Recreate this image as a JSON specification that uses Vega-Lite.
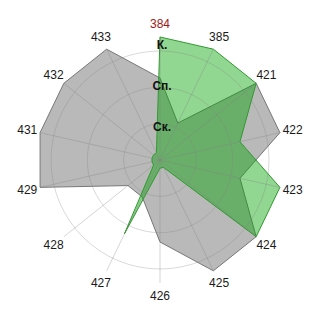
{
  "$schema": "https://vega.github.io/schema/vega-lite/v6.json",
  "width": 320,
  "height": 320,
  "padding": 0,
  "autosize": {"type": "none"},
  "background": "white",
  "config": {"view": {"stroke": null}},
  "datasets": {
    "series": [
      {"cat": "384", "s": "A", "v": 2},
      {"cat": "385", "s": "A", "v": 1},
      {"cat": "421", "s": "A", "v": 3},
      {"cat": "422", "s": "A", "v": 3},
      {"cat": "423", "s": "A", "v": 2},
      {"cat": "424", "s": "A", "v": 3},
      {"cat": "425", "s": "A", "v": 3},
      {"cat": "426", "s": "A", "v": 2},
      {"cat": "427", "s": "A", "v": 1},
      {"cat": "428", "s": "A", "v": 1},
      {"cat": "429", "s": "A", "v": 3},
      {"cat": "431", "s": "A", "v": 3},
      {"cat": "432", "s": "A", "v": 3},
      {"cat": "433", "s": "A", "v": 3},
      {"cat": "384", "s": "B", "v": 3},
      {"cat": "385", "s": "B", "v": 3},
      {"cat": "421", "s": "B", "v": 3},
      {"cat": "422", "s": "B", "v": 2},
      {"cat": "423", "s": "B", "v": 3},
      {"cat": "424", "s": "B", "v": 3},
      {"cat": "425", "s": "B", "v": 0.2},
      {"cat": "426", "s": "B", "v": 0.2},
      {"cat": "427", "s": "B", "v": 2},
      {"cat": "428", "s": "B", "v": 0.2},
      {"cat": "429", "s": "B", "v": 0.2},
      {"cat": "431", "s": "B", "v": 0.2},
      {"cat": "432", "s": "B", "v": 0.2},
      {"cat": "433", "s": "B", "v": 0.2}
    ],
    "rings": [
      {"lab": "Ск.", "v": 1},
      {"lab": "Сп.", "v": 2},
      {"lab": "К.", "v": 3}
    ]
  },
  "layer": [
    {
      "data": {"name": "series"},
      "transform": [
        {"filter": "datum.s === 'A'"},
        {"window": [{"op": "row_number", "as": "idx"}]},
        {"calculate": "(datum.idx - 1) * 2 * PI / 14", "as": "th"},
        {"calculate": "datum.v * sin(datum.th)", "as": "px"},
        {"calculate": "datum.v * cos(datum.th)", "as": "py"}
      ],
      "mark": {"type": "line", "interpolate": "linear-closed", "fill": "#b9b9b9", "stroke": "#777777", "strokeWidth": 1},
      "encoding": {
        "x": {"field": "px", "type": "quantitative", "scale": {"domain": [-3.9024, 3.9024], "nice": false, "zero": false}, "axis": null},
        "y": {"field": "py", "type": "quantitative", "scale": {"domain": [-3.9024, 3.9024], "nice": false, "zero": false}, "axis": null},
        "order": {"field": "idx", "type": "quantitative"}
      }
    },
    {
      "data": {"name": "series"},
      "transform": [
        {"filter": "datum.s === 'B'"},
        {"window": [{"op": "row_number", "as": "idx"}]},
        {"calculate": "(datum.idx - 1) * 2 * PI / 14", "as": "th"},
        {"calculate": "datum.v * sin(datum.th)", "as": "px"},
        {"calculate": "datum.v * cos(datum.th)", "as": "py"}
      ],
      "mark": {"type": "line", "interpolate": "linear-closed", "fill": "#00a000", "fillOpacity": 0.43, "stroke": "#2f9a2f", "strokeWidth": 1},
      "encoding": {
        "x": {"field": "px", "type": "quantitative", "scale": {"domain": [-3.9024, 3.9024], "nice": false, "zero": false}, "axis": null},
        "y": {"field": "py", "type": "quantitative", "scale": {"domain": [-3.9024, 3.9024], "nice": false, "zero": false}, "axis": null},
        "order": {"field": "idx", "type": "quantitative"}
      }
    },
    {
      "data": {"name": "rings"},
      "transform": [{"calculate": "0", "as": "z"}],
      "mark": {"type": "point", "shape": "circle", "filled": false, "fill": null, "stroke": "rgba(128,128,128,0.3)", "opacity": 1, "strokeWidth": 1},
      "encoding": {
        "x": {"field": "z", "type": "quantitative", "scale": {"domain": [-3.9024, 3.9024], "nice": false, "zero": false}, "axis": null},
        "y": {"field": "z", "type": "quantitative", "scale": {"domain": [-3.9024, 3.9024], "nice": false, "zero": false}, "axis": null},
        "size": {"field": "v", "type": "quantitative", "legend": null, "scale": {"type": "pow", "exponent": 2, "domain": [0, 3], "range": [0, 47529], "zero": true, "nice": false}}
      }
    },
    {
      "data": {"name": "series"},
      "transform": [
        {"filter": "datum.s === 'A'"},
        {"window": [{"op": "row_number", "as": "idx"}]},
        {"calculate": "(datum.idx - 1) * 2 * PI / 14", "as": "th"},
        {"calculate": "3 * sin(datum.th)", "as": "ex"},
        {"calculate": "3 * cos(datum.th)", "as": "ey"},
        {"calculate": "0", "as": "z"}
      ],
      "mark": {"type": "rule", "stroke": "rgba(128,128,128,0.33)", "strokeWidth": 1},
      "encoding": {
        "x": {"field": "z", "type": "quantitative", "scale": {"domain": [-3.9024, 3.9024], "nice": false, "zero": false}, "axis": null},
        "y": {"field": "z", "type": "quantitative", "scale": {"domain": [-3.9024, 3.9024], "nice": false, "zero": false}, "axis": null},
        "x2": {"field": "ex"},
        "y2": {"field": "ey"}
      }
    },
    {
      "data": {"name": "series"},
      "transform": [
        {"filter": "datum.s === 'A'"},
        {"window": [{"op": "row_number", "as": "idx"}]},
        {"calculate": "(datum.idx - 1) * 2 * PI / 14", "as": "th"},
        {"calculate": "3.32 * sin(datum.th)", "as": "lx"},
        {"calculate": "3.32 * cos(datum.th)", "as": "ly"}
      ],
      "mark": {"type": "text", "font": "Liberation Sans", "fontSize": 12, "align": "center", "baseline": "middle"},
      "encoding": {
        "x": {"field": "lx", "type": "quantitative", "scale": {"domain": [-3.9024, 3.9024], "nice": false, "zero": false}, "axis": null},
        "y": {"field": "ly", "type": "quantitative", "scale": {"domain": [-3.9024, 3.9024], "nice": false, "zero": false}, "axis": null},
        "text": {"field": "cat"},
        "color": {"condition": {"test": "datum.cat === '384'", "value": "#a01818"}, "value": "#1a1a1a"}
      }
    },
    {
      "data": {"name": "rings"},
      "transform": [{"calculate": "0", "as": "z"}],
      "mark": {"type": "text", "font": "Liberation Sans", "fontSize": 12, "fontWeight": "bold", "align": "center", "baseline": "top", "dy": 3, "dx": 2, "color": "#111111"},
      "encoding": {
        "x": {"field": "z", "type": "quantitative", "scale": {"domain": [-3.9024, 3.9024], "nice": false, "zero": false}, "axis": null},
        "y": {"field": "v", "type": "quantitative", "scale": {"domain": [-3.9024, 3.9024], "nice": false, "zero": false}, "axis": null},
        "text": {"field": "lab"}
      }
    }
  ]
}
